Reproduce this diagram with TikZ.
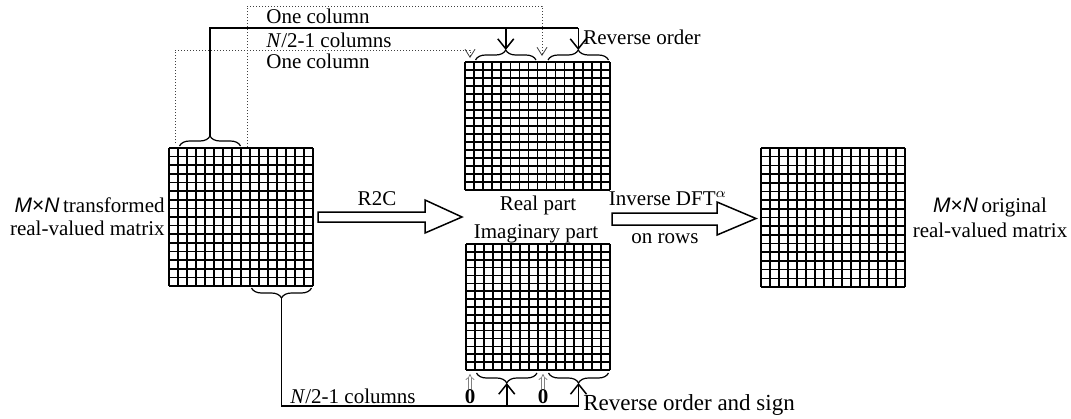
\documentclass[tikz,border=0pt]{standalone}
\usepackage{fontspec}
\setmainfont{Liberation Serif}
\setsansfont{Liberation Sans}
\usetikzlibrary{arrows.meta,decorations.pathreplacing}

\tikzset{
  gridline/.style={line width=0.8pt},
  cellgrid/.pic={
    \foreach \k in {0,...,16} {
      \draw[gridline] (\k,0) -- (\k,16);
      \draw[gridline] (0,\k) -- (16,\k);
    }
  },
  brc/.style={decorate,decoration={brace,amplitude=5pt},line width=0.6pt},
  link/.style={line width=0.75pt},
  linkarr/.style={link,-{Straight Barb[length=5pt,width=8pt]}},
  dotlink/.style={densely dotted,line width=0.5pt,black!75},
  dotarr/.style={dotlink,-{Straight Barb[length=4pt,width=5pt,line width=0.4pt]}},
  zeroarr/.style={double,double distance=1.2pt,line width=0.35pt,gray,-{Implies}},
  hollow/.style={line width=0.75pt,fill=white,line join=miter},
  lbl/.style={inner sep=0pt,font=\fontsize{10.5}{12.6}\selectfont},
}

\begin{document}
\begin{tikzpicture}[x=0.5pt,y=-0.5pt]
\useasboundingbox (0,0) rectangle (1071,418);

% the four matrices
\foreach \x/\y/\xs/\ys in {169/148/9/8.625, 465/62/9.06/8, 466/244/9/7.875, 761/148/9/8.69}
    \pic[xscale=\xs,yscale=\ys] at (\x,\y) {cellgrid};

% braces
\draw[brc] (179.5,146) -- (240.5,146);
\draw[brc] (311.5,288) -- (251.5,288);
\draw[brc] (475.5,60) -- (536,60);
\draw[brc] (548,60) -- (608.5,60);
\draw[brc] (537,373) -- (476.5,373);
\draw[brc] (608.5,373) -- (548.5,373);

\coordinate (srcTop) at (210,136);
\coordinate (srcBot) at (281.5,298);
\coordinate (reA) at (505.75,50);
\coordinate (reB) at (578.25,50);
\coordinate (imA) at (506.75,383);
\coordinate (imB) at (578.5,383);
\coordinate (hubT) at (578.25,28);
\coordinate (hubB) at (578.5,406);

% real part routing
\draw[link] (srcTop) |- (hubT);
\draw[linkarr] (reA |- hubT) -- (reA);
\draw[linkarr] (hubT) -- (reB);
\draw[dotarr] (175,143) |- (470,50) -- (470,58);
\draw[dotarr] (247,147) |- (542,6) -- (542,56);

% imaginary part routing
\draw[link] (srcBot) |- (hubB);
\draw[linkarr] (imA |- hubB) -- (imA);
\draw[linkarr] (hubB) -- (imB);

% hollow arrows
\draw[hollow] (318,212) -- (425,212) -- (425,200) -- (462,217) -- (425,233) -- (425,222) -- (318,222) -- cycle;
\draw[hollow] (612,213) -- (717,213) -- (717,202) -- (756,218.5) -- (717,235) -- (717,225) -- (612,225) -- cycle;

% labels
\node[lbl,anchor=base west] (oneA) at (266,23) {One column};
\node[lbl,anchor=base west] (halfA) at (266,47) {\textit{N}/2-1 columns};
\node[lbl,anchor=base west] (oneB) at (266,68) {One column};
\node[lbl,anchor=base west] (revA) at (583,44) {Reverse order};
\node[lbl,anchor=base east] (srcName) at (165,212) {\textsf{\textit{M}×\textit{N}}\,transformed};
\node[lbl,anchor=base east] (srcKind) at (165,235) {real-valued matrix};
\node[lbl,anchor=base] (dstName) at (990,212) {\textsf{\textit{M}×\textit{N}}\,original};
\node[lbl,anchor=base] (dstKind) at (990,237) {real-valued matrix};
\node[lbl,anchor=base] (r2c) at (377,205) {R2C};
\node[lbl,anchor=base] (realLbl) at (538,210) {Real part};
\node[lbl,anchor=base] (imagLbl) at (536,238) {Imaginary part};
\node[lbl,anchor=base] (idft) at (668,205) {Inverse DFT$^{\alpha}$};
\node[lbl,anchor=base] (rows) at (665,243) {on rows};
\node[lbl,anchor=base west] (halfB) at (290,403) {\textit{N}/2-1 columns};
\node[lbl,anchor=base west,font=\fontsize{11.5}{13.8}\selectfont] (revB) at (583,410) {Reverse order and sign};
\node[lbl,anchor=base] (zeroA) at (470,403) {\textbf{0}};
\node[lbl,anchor=base] (zeroB) at (543,403) {\textbf{0}};
\draw[zeroarr] (zeroA.north) -- (470,374);
\draw[zeroarr] (zeroB.north) -- (543,374);
\end{tikzpicture}
\end{document}
